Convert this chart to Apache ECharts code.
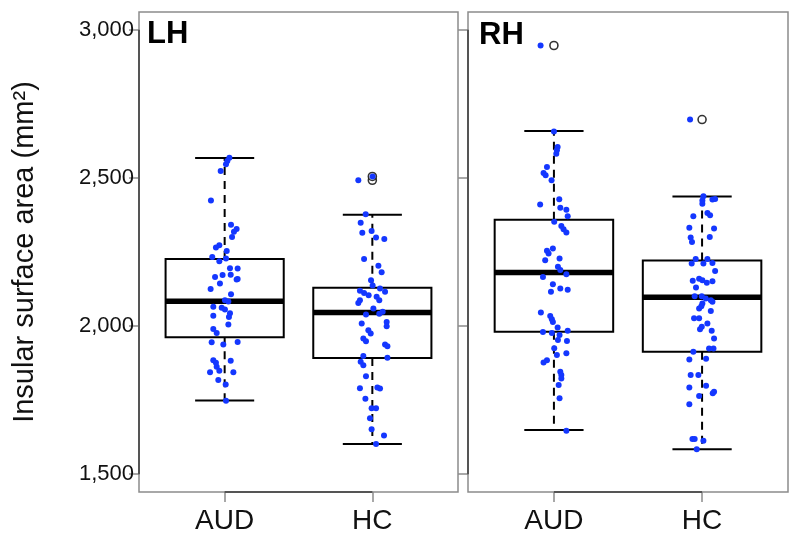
<!DOCTYPE html>
<html>
<head>
<meta charset="utf-8">
<script src="https://cdn.jsdelivr.net/npm/echarts@6/dist/echarts.min.js"></script>
<style>
    html, body { margin: 0; padding: 0; background: #fff; }
    #chart { width: 800px; height: 547px; }
</style>
</head>
<body>
<div id="chart"></div>
<script>

const groups = ['AUD', 'HC'];
const yTicks = [1500, 2000, 2500, 3000];

// box stats per group: [lower whisker, q1, median, q3, upper whisker]
const lhBox = [[1749, 1962, 2084, 2226, 2567], [1602, 1892, 2046, 2129, 2376]];
const rhBox = [[1649, 1981, 2181, 2359, 2658], [1584, 1913, 2097, 2221, 2437]];
const lhOutliers = [[], [2492, 2505]];
const rhOutliers = [[2947], [2697]];

// jittered raw points: values and horizontal jitter (in group units)
const lhAudVals = [2568, 2557, 2546, 2523, 2424, 2342, 2328, 2318, 2301, 2273, 2265, 2253, 2233, 2228, 2219, 2195, 2194, 2166, 2172, 2173, 2157, 2159, 2144, 2125, 2107, 2087, 2083, 2065, 2062, 2056, 2043, 2035, 2031, 2005, 1990, 1977, 1945, 1938, 1946, 1885, 1876, 1883, 1863, 1844, 1849, 1844, 1818, 1803, 1748];
const lhAudJit = [0.032, 0.018, 0.009, -0.027, -0.093, 0.043, 0.081, 0.063, 0.050, -0.036, -0.059, 0.014, -0.084, 0.009, -0.036, 0.036, 0.088, -0.065, -0.014, 0.041, 0.081, 0.088, -0.032, -0.095, 0.043, 0.002, 0.025, -0.077, -0.020, 0.002, 0.036, -0.077, 0.029, 0.025, -0.077, -0.054, -0.088, -0.009, 0.088, -0.077, -0.059, 0.041, -0.054, -0.099, -0.036, 0.059, -0.043, 0.007, 0.009];

const lhHcVals = [2492, 2505, 2377, 2349, 2315, 2321, 2299, 2294, 2226, 2204, 2182, 2155, 2137, 2119, 2112, 2104, 2127, 2116, 2099, 2087, 2078, 2087, 2059, 2039, 2042, 2048, 2014, 1999, 2009, 1986, 1975, 1958, 1949, 1938, 1932, 1893, 1899, 1880, 1868, 1831, 1790, 1793, 1789, 1755, 1723, 1723, 1689, 1652, 1631, 1602];
const lhHcJit = [-0.095, 0.002, -0.045, -0.079, -0.068, -0.005, 0.025, 0.081, -0.056, 0.041, 0.063, -0.009, 0.002, -0.084, -0.056, -0.025, 0.052, 0.086, 0.029, 0.047, -0.095, -0.084, 0.007, -0.043, 0.047, 0.070, 0.097, 0.097, -0.072, -0.027, -0.011, -0.061, -0.043, 0.086, 0.102, 0.102, -0.061, -0.079, -0.061, -0.043, -0.084, 0.034, 0.052, -0.047, -0.005, 0.025, -0.016, -0.005, 0.079, 0.025];

const rhAudVals = [2947, 2657, 2604, 2593, 2582, 2537, 2517, 2509, 2492, 2410, 2428, 2399, 2393, 2371, 2352, 2338, 2327, 2316, 2262, 2254, 2245, 2222, 2228, 2200, 2189, 2175, 2166, 2141, 2127, 2123, 2116, 2046, 2034, 2023, 2014, 1995, 1984, 1980, 1977, 1970, 1953, 1950, 1925, 1902, 1908, 1885, 1877, 1846, 1835, 1823, 1801, 1756, 1647];
const rhAudJit = [-0.090, 0.000, 0.025, 0.020, 0.016, -0.047, -0.070, -0.056, -0.016, -0.093, 0.036, 0.043, 0.084, 0.093, 0.002, 0.050, 0.065, 0.084, -0.007, -0.047, -0.036, -0.059, 0.038, 0.027, 0.043, 0.084, -0.074, -0.007, 0.043, 0.093, -0.020, -0.088, -0.025, -0.014, -0.007, 0.025, 0.093, -0.074, -0.014, 0.038, 0.027, 0.088, 0.002, 0.020, 0.084, -0.047, -0.070, 0.043, 0.050, 0.050, 0.032, 0.038, 0.084];

const rhHcVals = [2697, 2438, 2424, 2427, 2429, 2413, 2382, 2374, 2371, 2332, 2329, 2299, 2284, 2301, 2226, 2211, 2211, 2226, 2213, 2186, 2153, 2160, 2155, 2146, 2151, 2130, 2101, 2101, 2093, 2087, 2082, 2076, 2059, 2067, 2051, 2026, 2026, 2009, 1998, 1989, 1984, 1958, 1924, 1924, 1913, 1887, 1890, 1835, 1835, 1799, 1793, 1764, 1778, 1773, 1736, 1619, 1619, 1613, 1584];
const rhHcJit = [-0.081, 0.009, 0.002, 0.070, 0.088, 0.002, 0.036, 0.054, -0.059, -0.086, 0.081, -0.077, -0.068, 0.052, -0.043, -0.070, 0.009, 0.036, 0.070, 0.088, -0.063, -0.020, 0.002, 0.032, 0.070, -0.041, -0.050, -0.002, 0.025, 0.059, 0.070, 0.002, -0.020, -0.005, 0.059, -0.054, -0.020, 0.036, -0.002, -0.014, 0.065, 0.081, 0.047, 0.077, -0.059, -0.086, 0.027, -0.077, -0.025, 0.027, -0.086, -0.020, 0.081, 0.072, -0.086, -0.065, -0.050, 0.009, -0.036];

const FONT = 'Liberation Sans, Arial, Helvetica, sans-serif';
const FRAME = '#8c8c8c';
const AXIS = '#555';
const X_MIN = 0.42, X_MAX = 2.58, Y_MIN = 1440, Y_MAX = 3060;

const jitterPoints = (pos, vals, jit) => vals.map((v, i) => [pos + jit[i], v]);
const boxData = (boxes) => boxes.map((b, i) => [i + 1, ...b]);
const outlierData = (outs) => {
    let res = [];
    outs.forEach((list, i) => list.forEach((v) => res.push([i + 1, v])));
    return res;
};

const renderBox = (params, api) => {
    const x = api.value(0);
    const lo = api.value(1), q1 = api.value(2), md = api.value(3), q3 = api.value(4), hi = api.value(5);
    const p = (xx, yy) => api.coord([xx, yy]);
    const line = (a, b, style) => ({
        type: 'line',
        shape: { x1: a[0], y1: a[1], x2: b[0], y2: b[1] },
        style: Object.assign({ stroke: '#000', lineWidth: 2 }, style),
    });
    const tl = p(x - 0.4, q3), br = p(x + 0.4, q1);
    return {
        type: 'group',
        children: [
            line(p(x, q3), p(x, hi), { lineDash: [8, 6] }),
            line(p(x, q1), p(x, lo), { lineDash: [8, 6] }),
            line(p(x - 0.2, hi), p(x + 0.2, hi), {}),
            line(p(x - 0.2, lo), p(x + 0.2, lo), {}),
            {
                type: 'rect',
                shape: { x: tl[0], y: tl[1], width: br[0] - tl[0], height: br[1] - tl[1] },
                style: { fill: 'none', stroke: '#000', lineWidth: 2 },
            },
            line(p(x - 0.4, md), p(x + 0.4, md), { lineWidth: 5.5 }),
        ],
    };
};

const xAxisFor = (idx) => ({
    type: 'value',
    gridIndex: idx,
    min: X_MIN,
    max: X_MAX,
    splitLine: { show: false },
    axisLine: { show: false },
    axisTick: { show: true, customValues: [1, 2], length: 10, lineStyle: { color: FRAME, width: 1.5 } },
    axisLabel: {
        customValues: [1, 2],
        formatter: (v) => groups[Math.round(v) - 1],
        fontSize: 28, color: '#111', fontFamily: FONT, margin: 15,
    },
});

const yAxisFor = (idx) => ({
    type: 'value',
    gridIndex: idx,
    min: Y_MIN,
    max: Y_MAX,
    splitLine: { show: false },
    axisLine: { show: false },
    axisTick: { show: true, customValues: yTicks, length: 10, lineStyle: { color: FRAME, width: 1.5 } },
    axisLabel: {
        show: idx === 0,
        customValues: yTicks,
        formatter: (v) => v.toLocaleString('en-US'),
        fontSize: 22, color: '#111', fontFamily: FONT, margin: 5,
    },
    name: idx === 0 ? 'Insular surface area (mm²)' : '',
    nameLocation: 'middle',
    nameGap: 100,
    nameTextStyle: { fontSize: 29, color: '#111', fontFamily: FONT },
});

// R-style axis lines: from first to last tick only
const axisSegments = [
    [{ coord: [1, Y_MIN] }, { coord: [2, Y_MIN] }],
    [{ coord: [X_MIN, yTicks[0]] }, { coord: [X_MIN, yTicks[yTicks.length - 1]] }],
];

const panelSeries = (idx, boxes, outs, audVals, audJit, hcVals, hcJit) => [
    {
        type: 'custom',
        xAxisIndex: idx, yAxisIndex: idx,
        renderItem: renderBox,
        encode: { x: 0, y: [1, 2, 3, 4, 5] },
        data: boxData(boxes),
        silent: true,
        z: 2,
    },
    {
        type: 'scatter',
        xAxisIndex: idx, yAxisIndex: idx,
        symbol: 'circle',
        symbolSize: 8,
        itemStyle: { color: '#fff', borderColor: '#000', borderWidth: 1.6 },
        data: outlierData(outs),
        markLine: {
            silent: true,
            symbol: ['none', 'none'],
            label: { show: false },
            lineStyle: { color: AXIS, width: 2, type: 'solid' },
            data: axisSegments,
        },
        z: 3,
    },
    {
        type: 'scatter',
        xAxisIndex: idx, yAxisIndex: idx,
        symbolSize: 6,
        itemStyle: { color: '#1437ff', opacity: 1 },
        data: jitterPoints(1, audVals, audJit).concat(jitterPoints(2, hcVals, hcJit)),
        z: 4,
    },
];

const chart = echarts.init(document.getElementById('chart'), null, { renderer: 'canvas' });

chart.setOption({
    animation: false,
    backgroundColor: '#fff',
    title: [
        { text: 'LH', left: 147, top: 19, padding: 0, textStyle: { fontSize: 31, fontWeight: 'bold', color: '#000', fontFamily: FONT } },
        { text: 'RH', left: 479, top: 20, padding: 0, textStyle: { fontSize: 31, fontWeight: 'bold', color: '#000', fontFamily: FONT } },
    ],
    grid: [
        { left: 139, top: 12, width: 319, height: 480, show: true, borderColor: FRAME, borderWidth: 1.5, backgroundColor: 'transparent' },
        { left: 468, top: 12, width: 320, height: 480, show: true, borderColor: FRAME, borderWidth: 1.5, backgroundColor: 'transparent' },
    ],
    xAxis: [xAxisFor(0), xAxisFor(1)],
    yAxis: [yAxisFor(0), yAxisFor(1)],
    series: [
        ...panelSeries(0, lhBox, lhOutliers, lhAudVals, lhAudJit, lhHcVals, lhHcJit),
        ...panelSeries(1, rhBox, rhOutliers, rhAudVals, rhAudJit, rhHcVals, rhHcJit),
    ],
});

</script>
</body>
</html>
